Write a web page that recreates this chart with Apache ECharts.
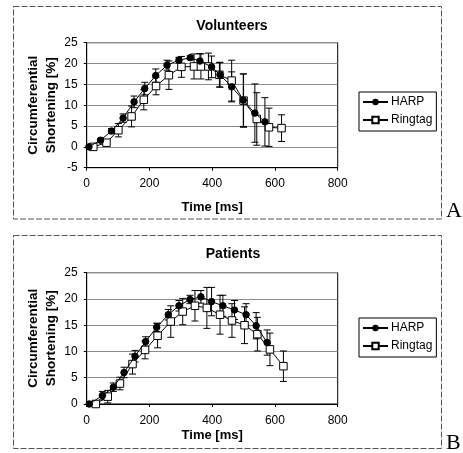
<!DOCTYPE html>
<html><head><meta charset="utf-8">
<script src="https://cdn.jsdelivr.net/npm/echarts@6/dist/echarts.min.js"></script>
<style>html,body{margin:0;padding:0;background:#fff}#c{width:463px;height:453px}</style>
</head><body><div id="c"></div>
<script>
// Volunteers
const volHarpTime = [7, 44, 79, 116, 151, 185, 220, 256, 294, 330, 361, 398, 425, 462, 499, 536, 568];
const volHarp     = [0, 1.6, 3.8, 6.9, 10.8, 14.0, 17.1, 19.6, 20.8, 21.4, 20.6, 19.2, 17.3, 14.4, 11.2, 8.1, 6.0];
const volHarpErr  = [0.3, 0.4, 0.6, 1.0, 1.4, 1.5, 1.6, 1.2, 0.7, 0.5, 1.8, 2.6, 3.0, 3.6, 6.3, 7.0, 5.8];
const volRingTime = [21, 63, 101, 143, 182, 221, 262, 302, 342, 364, 388, 423, 462, 500, 542, 581, 621];
const volRing     = [0, 1.0, 4.0, 7.3, 11.3, 14.6, 17.2, 19.2, 19.3, 19.3, 19.3, 17.3, 15.9, 11.1, 6.7, 4.7, 4.5];
const volRingErr  = [0.2, 0.4, 1.6, 2.5, 2.4, 2.1, 3.4, 2.5, 3.0, 3.0, 3.2, 2.9, 4.9, 6.4, 6.3, 4.6, 3.2];
// Patients
const patHarpTime = [8, 50, 85, 119, 154, 188, 223, 260, 294, 329, 364, 398, 434, 471, 508, 540, 575];
const patHarp     = [0, 1.6, 3.2, 6.0, 9.1, 11.9, 14.6, 17.0, 18.7, 19.9, 20.4, 19.5, 18.7, 17.9, 17.0, 14.9, 11.7];
const patHarpErr  = [0.2, 0.8, 0.8, 1.0, 1.1, 0.9, 0.8, 1.0, 1.0, 0.8, 1.2, 2.7, 2.0, 1.8, 2.1, 2.5, 2.4];
const patRingTime = [29, 67, 106, 146, 186, 226, 268, 306, 345, 383, 425, 463, 503, 544, 584, 627];
const patRing     = [0, 1.4, 3.9, 7.6, 10.3, 13.0, 15.7, 17.6, 18.7, 18.3, 17.0, 15.9, 15.0, 13.3, 10.4, 7.2];
const patRingErr  = [0.2, 1.2, 1.2, 1.9, 1.7, 2.3, 3.0, 2.5, 2.9, 3.9, 3.7, 3.2, 3.5, 3.2, 3.1, 2.9];

const seriesNames = ['HARP', 'Ringtag'];
const panelTitles = ['Volunteers', 'Patients'];
const xTicks = {min: 0, max: 800, interval: 200};
const yTicksVol = {min: -5, max: 25, interval: 5};
const yTicksPat = {min: 0, max: 25, interval: 5};

const FONT = 'Liberation Sans, Arial, sans-serif';

function pts(t, v) { return t.map((x, i) => [x, v[i]]); }
function errPts(t, v, e) { return t.map((x, i) => [x, v[i], e[i]]); }

function errRender(params, api) {
  const x = api.value(0), y = api.value(1), e = api.value(2);
  const hi = api.coord([x, y + e]);
  const lo = api.coord([x, y - e]);
  const cw = 3.5;
  const st = {stroke: '#000', lineWidth: 1};
  return {type: 'group', children: [
    {type: 'line', shape: {x1: hi[0], y1: hi[1], x2: lo[0], y2: lo[1]}, style: st},
    {type: 'line', shape: {x1: hi[0]-cw, y1: hi[1], x2: hi[0]+cw, y2: hi[1]}, style: st},
    {type: 'line', shape: {x1: lo[0]-cw, y1: lo[1], x2: lo[0]+cw, y2: lo[1]}, style: st}
  ]};
}

function xAxisFor(gi, nameGap, margin) {
  return {gridIndex: gi, type: 'value', min: xTicks.min, max: xTicks.max, interval: xTicks.interval,
    axisLine: {show: true, onZero: false, lineStyle: {color: '#000', width: 1}},
    axisTick: {show: true, length: 3, lineStyle: {color: '#000'}},
    splitLine: {show: false},
    axisLabel: {color: '#000', fontSize: 12, fontFamily: FONT, margin: margin},
    name: 'Time [ms]', nameLocation: 'middle', nameGap: nameGap, nameMoveOverlap: false,
    nameTextStyle: {color: '#000', fontSize: 13, fontWeight: 'bold', fontFamily: FONT}};
}
function yAxisFor(gi, t) {
  return {gridIndex: gi, type: 'value', min: t.min, max: t.max, interval: t.interval,
    axisLine: {show: true, lineStyle: {color: '#000', width: 1}},
    axisTick: {show: true, length: 3, lineStyle: {color: '#000'}},
    splitLine: {show: true, lineStyle: {color: '#8a8a8a', width: 1}},
    axisLabel: {color: '#000', fontSize: 12, fontFamily: FONT, margin: 9},
    name: 'Circumferential\nShortening [%]', nameLocation: 'middle', nameRotate: 90, nameGap: 26.5, nameMoveOverlap: false,
    nameTextStyle: {color: '#000', fontSize: 13.5, fontWeight: 'bold', fontFamily: FONT, lineHeight: 18}};
}

const harpStyle = {type: 'line', symbol: 'circle', symbolSize: 6.5, showAllSymbol: true,
  itemStyle: {color: '#000', borderColor: '#000'}, lineStyle: {color: '#000', width: 1}, z: 5};
const ringStyle = {type: 'line', symbol: 'rect', symbolSize: 7.5, showAllSymbol: true,
  itemStyle: {color: '#fff', borderColor: '#000', borderWidth: 1}, lineStyle: {color: '#000', width: 1}, z: 4};

const chart = echarts.init(document.getElementById('c'), null, {renderer: 'canvas'});
chart.setOption({
  animation: false,
  backgroundColor: '#fff',
  title: [
    {text: panelTitles[0], left: 227, top: 14, textAlign: 'center', textStyle: {fontSize: 14, fontWeight: 'bold', color: '#000', fontFamily: FONT}},
    {text: panelTitles[1], left: 228, top: 242, textAlign: 'center', textStyle: {fontSize: 14, fontWeight: 'bold', color: '#000', fontFamily: FONT}}
  ],
  legend: [
    {data: seriesNames.map(n => ({name: n})), selectedMode: false, orient: 'vertical', left: 359, top: 92,
     padding: [4, 4, 5, 3], itemGap: 6, itemWidth: 25, itemHeight: 8, borderColor: '#000', borderWidth: 1,
     textStyle: {fontSize: 12, color: '#000', fontFamily: FONT, padding: [0, 0, 0, -2]}},
    {data: seriesNames.map(n => ({name: n + ' '})), selectedMode: false, orient: 'vertical', left: 359, top: 318,
     padding: [4, 4, 5, 3], itemGap: 6, itemWidth: 25, itemHeight: 8, borderColor: '#000', borderWidth: 1,
     formatter: n => n.trim(),
     textStyle: {fontSize: 12, color: '#000', fontFamily: FONT, padding: [0, 0, 0, -2]}}
  ],
  grid: [
    {left: 86.7, top: 42.7, width: 251, height: 125, show: true, borderColor: '#000', borderWidth: 1, backgroundColor: 'transparent'},
    {left: 86.7, top: 272.7, width: 251, height: 131.3, show: true, borderColor: '#000', borderWidth: 1, backgroundColor: 'transparent'}
  ],
  xAxis: [xAxisFor(0, 33, 10), xAxisFor(1, 25, 11)],
  yAxis: [yAxisFor(0, yTicksVol), yAxisFor(1, yTicksPat)],
  series: [
    Object.assign({name: 'HARP', xAxisIndex: 0, yAxisIndex: 0, data: pts(volHarpTime, volHarp)}, harpStyle),
    Object.assign({name: 'Ringtag', xAxisIndex: 0, yAxisIndex: 0, data: pts(volRingTime, volRing)}, ringStyle),
    {type: 'custom', xAxisIndex: 0, yAxisIndex: 0, renderItem: errRender, data: errPts(volHarpTime, volHarp, volHarpErr), z: 3, clip: true, encode: {x: 0, y: 1}},
    {type: 'custom', xAxisIndex: 0, yAxisIndex: 0, renderItem: errRender, data: errPts(volRingTime, volRing, volRingErr), z: 3, clip: true, encode: {x: 0, y: 1}},
    Object.assign({name: 'HARP ', xAxisIndex: 1, yAxisIndex: 1, data: pts(patHarpTime, patHarp)}, harpStyle),
    Object.assign({name: 'Ringtag ', xAxisIndex: 1, yAxisIndex: 1, data: pts(patRingTime, patRing)}, ringStyle),
    {type: 'custom', xAxisIndex: 1, yAxisIndex: 1, renderItem: errRender, data: errPts(patHarpTime, patHarp, patHarpErr), z: 3, clip: true, encode: {x: 0, y: 1}},
    {type: 'custom', xAxisIndex: 1, yAxisIndex: 1, renderItem: errRender, data: errPts(patRingTime, patRing, patRingErr), z: 3, clip: true, encode: {x: 0, y: 1}}
  ],
  graphic: [
    {type: 'rect', shape: {x: 13.5, y: 6.5, width: 428, height: 212.5}, style: {fill: 'none', stroke: '#555', lineWidth: 1, lineDash: [6, 2]}, silent: true},
    {type: 'rect', shape: {x: 13.5, y: 235.5, width: 428, height: 213}, style: {fill: 'none', stroke: '#555', lineWidth: 1, lineDash: [6, 2]}, silent: true},
    {type: 'text', left: 446, top: 200, style: {text: 'A', font: '22px "Liberation Serif", "Times New Roman", serif', fill: '#000'}},
    {type: 'text', left: 446, top: 432, style: {text: 'B', font: '22px "Liberation Serif", "Times New Roman", serif', fill: '#000'}}
  ]
});
</script></body></html>
